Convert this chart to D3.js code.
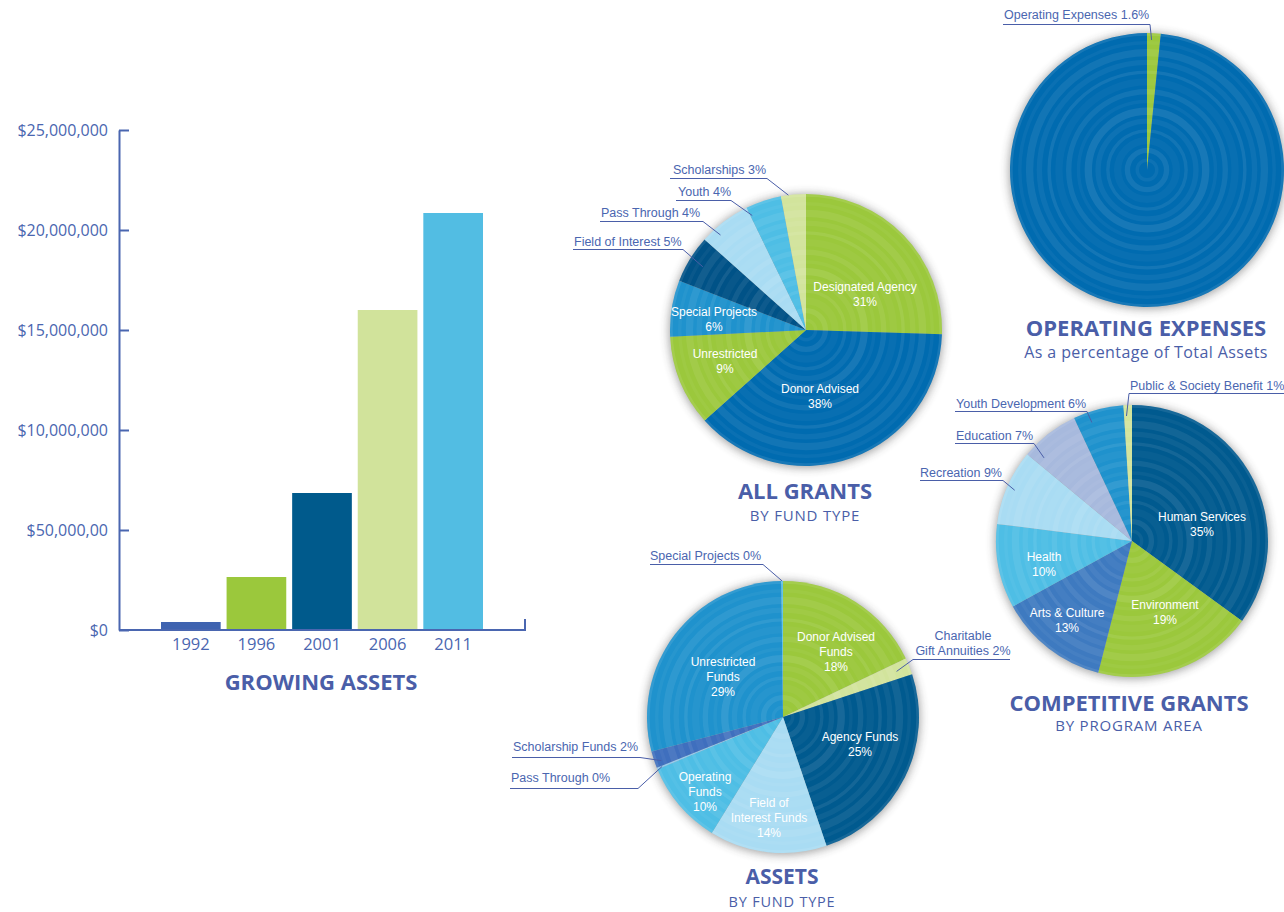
<!DOCTYPE html>
<html><head><meta charset="utf-8">
<script src="https://cdn.jsdelivr.net/npm/d3@7"></script>
<style>
html,body{margin:0;padding:0;background:#fff;}
svg{display:block;}
</style></head><body>
<svg id="chart" width="1284" height="912"></svg>
<script>
// ---------------- DATA ----------------
// Growing assets (bar chart)
const years = ["1992", "1996", "2001", "2006", "2011"];
const assetTotals = [400000, 2650000, 6850000, 16000000, 20850000];
const barColors = ["#3f63b0", "#9bc83c", "#005a8c", "#d1e39b", "#52bde3"];
const yTicks = [0, 5000000, 10000000, 15000000, 20000000, 25000000];
const yTickLabels = ["$0", "$50,000,00", "$10,000,000", "$15,000,000", "$20,000,000", "$25,000,000"];

// All grants by fund type (wedge sizes as drawn, printed percentages)
const grantNames = ["Designated Agency", "Donor Advised", "Unrestricted", "Special Projects", "Field of Interest", "Pass Through", "Youth", "Scholarships"];
const grantValues = [25.5, 37.9, 10.8, 6.7, 5.7, 6.2, 4.25, 2.95];
const grantPct = ["31%", "38%", "9%", "6%", "5%", "4%", "4%", "3%"];
const grantColors = ["#9bc83c", "#006bb0", "#9bc83c", "#1f92cd", "#005287", "#a9dcf3", "#4ebee5", "#d2e49c"];

// Operating expenses as a percentage of total assets
const opexNames = ["Operating Expenses", "Other Assets"];
const opexValues = [1.6, 98.4];
const opexPct = ["1.6%", ""];
const opexColors = ["#9bc83c", "#006bb0"];

// Competitive grants by program area
const compNames = ["Human Services", "Environment", "Arts & Culture", "Health", "Recreation", "Education", "Youth Development", "Public & Society Benefit"];
const compValues = [35, 19, 13, 10, 9, 7, 6, 1];
const compPct = ["35%", "19%", "13%", "10%", "9%", "7%", "6%", "1%"];
const compColors = ["#005a8f", "#9bc83c", "#3e7ac0", "#4ebee5", "#a9dcf3", "#a7b9dd", "#1f92cd", "#d2e49c"];

// Assets by fund type
const assetNames = ["Donor Advised\nFunds", "Charitable\nGift Annuities", "Agency Funds", "Field of\nInterest Funds", "Operating\nFunds", "Pass Through", "Scholarship Funds", "Unrestricted\nFunds", "Special Projects"];
const assetValues = [18, 2, 25, 14, 10, 0.2, 2, 29, 0.2];
const assetPct = ["18%", "2%", "25%", "14%", "10%", "0%", "2%", "29%", "0%"];
const assetColors = ["#9bc83c", "#d2e49c", "#005a8f", "#a9dcf3", "#4ebee5", "#8fc9ee", "#3f6fbe", "#1f92cd", "#5ec3ea"];

// ---------------- STYLE ----------------
const textBlue = "#4a66b0";
const titleBlue = "#4a5ea8";
const lineBlue = "#4a5ea8";
const humanist = "'Open Sans', 'Lato', sans-serif";
const arial = "'Liberation Sans', Arial, sans-serif";

const svg = d3.select("#chart");
const defs = svg.append("defs");
const blur = defs.append("filter").attr("id", "soft").attr("x", "-20%").attr("y", "-20%").attr("width", "140%").attr("height", "140%");
blur.append("feGaussianBlur").attr("stdDeviation", 5);

// ---------------- BAR CHART ----------------
const axisLeftX = 119, axisRightX = 525;
const x = d3.scaleBand().domain(years).range([161, 483]).paddingInner(0.09);
const y = d3.scaleLinear().domain([0, 25000000]).range([630, 130]);

svg.append("g").selectAll("rect").data(years).join("rect")
  .attr("x", d => x(d))
  .attr("width", x.bandwidth())
  .attr("y", (d, i) => y(assetTotals[i]))
  .attr("height", (d, i) => y(0) - y(assetTotals[i]))
  .attr("fill", (d, i) => barColors[i]);

svg.append("g")
  .attr("transform", `translate(${axisLeftX},0)`)
  .call(d3.axisLeft(y).tickValues(yTicks).tickFormat((d, i) => yTickLabels[i])
    .tickSize(-10).tickSizeOuter(0).tickPadding(11))
  .call(g => g.select(".domain").attr("stroke", textBlue).attr("stroke-width", 2))
  .call(g => g.selectAll(".tick line").attr("stroke", textBlue).attr("stroke-width", 2))
  .call(g => g.selectAll(".tick text").attr("fill", textBlue)
    .style("font-family", humanist).style("font-size", "16px"));

svg.append("path")
  .attr("d", `M${axisLeftX},${y(0)}H${axisRightX}V${y(0) - 11}`)
  .attr("fill", "none").attr("stroke", textBlue).attr("stroke-width", 2);

svg.append("g")
  .attr("transform", `translate(0,${y(0)})`)
  .call(d3.axisBottom(x).tickSize(0).tickPadding(8))
  .call(g => g.select(".domain").remove())
  .call(g => g.selectAll(".tick text").attr("fill", textBlue)
    .style("font-family", humanist).style("font-size", "16.5px"));

function title(tx, ty, main, sub, mainSize, subSize, subSpacing, gap) {
  svg.append("text").attr("x", tx).attr("y", ty).attr("text-anchor", "middle")
    .attr("fill", titleBlue).style("font-family", humanist).style("font-weight", 700)
    .style("font-size", mainSize + "px").text(main);
  if (sub) {
    svg.append("text").attr("x", tx).attr("y", ty + (gap || 23)).attr("text-anchor", "middle")
      .attr("fill", titleBlue).style("font-family", humanist)
      .style("font-size", subSize + "px").style("letter-spacing", subSpacing + "px").text(sub);
  }
}
title(321, 690, "GROWING ASSETS", null, 22);

// ---------------- PIES ----------------
const ringAlpha = [0.05, 0.08, 0.03, 0.07, 0.05, 0.09, 0.04, 0.07, 0.03, 0.08, 0.05, 0.07, 0.04, 0.09];
let pieCount = 0;

function drawPie(cfg) {
  const id = "pieclip" + (pieCount++);
  const g = svg.append("g").attr("transform", `translate(${cfg.cx},${cfg.cy})`);
  const arcs = d3.pie().sort(null).value(d => d)(cfg.values);
  const arc = d3.arc().innerRadius(0).outerRadius(cfg.r);

  defs.append("clipPath").attr("id", id).append("circle")
    .attr("cx", cfg.cx).attr("cy", cfg.cy).attr("r", cfg.r);

  g.append("circle").attr("r", cfg.r + 1).attr("cy", 1)
    .attr("fill", "#333").attr("opacity", 0.45).attr("filter", "url(#soft)");

  g.selectAll("path.slice").data(arcs).join("path").attr("class", "slice")
    .attr("d", arc).attr("fill", (d, i) => cfg.colors[i]);

  // concentric ripple texture
  const rings = svg.append("g").attr("clip-path", `url(#${id})`)
    .append("g").attr("transform", `translate(${cfg.cx},${cfg.cy})`);
  const n = ringAlpha.length;
  rings.selectAll("circle").data(ringAlpha).join("circle")
    .attr("r", (a, i) => cfg.r * (i + 1) / n)
    .attr("fill", "none").attr("stroke", "#fff")
    .attr("stroke-opacity", a => a)
    .attr("stroke-width", (a, i) => cfg.r / n * (0.35 + (i % 3) * 0.2));

  // inner labels
  (cfg.inner || []).forEach(lab => {
    const lines = cfg.names[lab.i].split("\n").concat([cfg.pct[lab.i]]);
    const t = g.append("text").attr("text-anchor", "middle").attr("fill", "#fff")
      .style("font-family", arial).style("font-size", "12px");
    const h = (lines.length - 1) * 15;
    lines.forEach((ln, k) => {
      t.append("tspan").attr("x", lab.dx).attr("y", lab.dy - h / 2 + k * 15 + 4).text(ln);
    });
  });

  // leader labels
  (cfg.leaders || []).forEach(ld => {
    const d = arcs[ld.i];
    const ang = d.startAngle + (d.endAngle - d.startAngle) * (ld.t === undefined ? 0.5 : ld.t);
    const px = cfg.cx + Math.sin(ang) * cfg.r * ld.rf;
    const py = cfg.cy - Math.cos(ang) * cfg.r * ld.rf;
    const lines = cfg.names[ld.i].split("\n");
    lines[lines.length - 1] += " " + cfg.pct[ld.i];
    const t = svg.append("text").attr("text-anchor", ld.anchor || "start").attr("fill", textBlue)
      .style("font-family", arial).style("font-size", "12.5px");
    lines.forEach((ln, k) => {
      t.append("tspan").attr("x", ld.tx).attr("y", ld.ty - (lines.length - 1 - k) * 15).text(ln);
    });
    const sx = ld.side === "left" ? ld.ux0 : ld.ux1;
    svg.append("path")
      .attr("d", `M${ld.ux0},${ld.uy}H${ld.ux1}M${sx},${ld.uy}L${px},${py}`)
      .attr("fill", "none").attr("stroke", lineBlue).attr("stroke-width", 1);
  });
}

// All grants
drawPie({
  cx: 806, cy: 330, r: 136,
  names: grantNames, values: grantValues, pct: grantPct, colors: grantColors,
  inner: [{i: 0, dx: 59, dy: -36}, {i: 1, dx: 14, dy: 66}, {i: 2, dx: -81, dy: 31}, {i: 3, dx: -92, dy: -11}],
  leaders: [
    {i: 7, tx: 673, ty: 174, ux0: 670, ux1: 767, uy: 178.5, side: "right", rf: 1.0, t: 0.3},
    {i: 6, tx: 678, ty: 196, ux0: 676, ux1: 731, uy: 200.5, side: "right", rf: 0.93, t: 0.05},
    {i: 5, tx: 601, ty: 217, ux0: 600, ux1: 703, uy: 221.5, side: "right", rf: 0.94, t: 0.28},
    {i: 4, tx: 574, ty: 246, ux0: 573, ux1: 683, uy: 249.5, side: "right", rf: 0.89, t: 0.5}
  ]
});
title(805, 499, "ALL GRANTS", "BY FUND TYPE", 22, 15, 0.8, 22);

// Operating expenses
drawPie({
  cx: 1147, cy: 170, r: 137,
  names: opexNames, values: opexValues, pct: opexPct, colors: opexColors,
  inner: [],
  leaders: [
    {i: 0, tx: 1004, ty: 19, ux0: 1003, ux1: 1150, uy: 24.5, side: "right", rf: 0.95, t: 0.35}
  ]
});
title(1146, 336, "OPERATING EXPENSES", "As a percentage of Total Assets", 22, 16, 0.4, 22);

// Competitive grants
drawPie({
  cx: 1132, cy: 541, r: 136,
  names: compNames, values: compValues, pct: compPct, colors: compColors,
  inner: [{i: 0, dx: 70, dy: -17}, {i: 1, dx: 33, dy: 71}, {i: 2, dx: -65, dy: 79}, {i: 3, dx: -88, dy: 23}],
  leaders: [
    {i: 7, tx: 1130, ty: 390, ux0: 1129, ux1: 1284, uy: 393.5, side: "left", rf: 0.92, t: 0.3},
    {i: 6, tx: 956, ty: 408, ux0: 955, ux1: 1087, uy: 411.5, side: "right", rf: 0.92, t: 0.3},
    {i: 5, tx: 956, ty: 440, ux0: 955, ux1: 1034, uy: 443.5, side: "right", rf: 0.89, t: 0.15},
    {i: 4, tx: 920, ty: 477, ux0: 920, ux1: 1003, uy: 480.5, side: "right", rf: 0.94, t: 0.5}
  ]
});
title(1129, 711, "COMPETITIVE GRANTS", "BY PROGRAM AREA", 22, 15, 0.8, 20);

// Assets
drawPie({
  cx: 783, cy: 717, r: 136,
  names: assetNames, values: assetValues, pct: assetPct, colors: assetColors,
  inner: [{i: 0, dx: 53, dy: -65}, {i: 7, dx: -60, dy: -40}, {i: 2, dx: 77, dy: 27}, {i: 4, dx: -78, dy: 75}, {i: 3, dx: -14, dy: 101}],
  leaders: [
    {i: 8, tx: 650, ty: 560, ux0: 650, ux1: 763, uy: 564.5, side: "right", rf: 1.0},
    {i: 1, tx: 963, ty: 655, anchor: "middle", ux0: 913, ux1: 1010, uy: 659.5, side: "left", rf: 0.9},
    {i: 6, tx: 513, ty: 751, ux0: 512, ux1: 640, uy: 757.5, side: "right", rf: 0.95, t: 0.3},
    {i: 5, tx: 511, ty: 782, ux0: 510, ux1: 638, uy: 788.5, side: "right", rf: 0.96}
  ]
});
title(782, 884, "ASSETS", "BY FUND TYPE", 21, 14.5, 0.8, 23);
</script>
</body></html>
